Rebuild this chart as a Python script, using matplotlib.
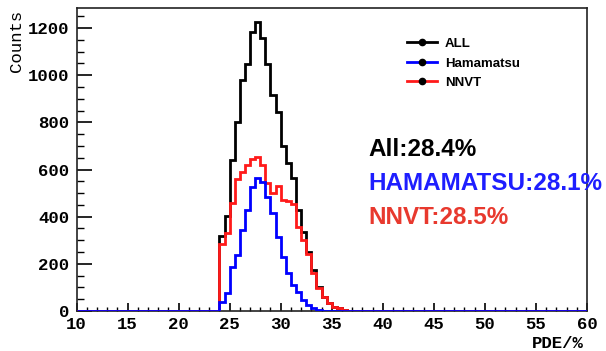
import matplotlib
matplotlib.use('Agg')
import matplotlib.pyplot as plt
from matplotlib.lines import Line2D
from matplotlib.ticker import MultipleLocator

# PDE histogram, 0.5 % bins starting at 24 %
bin_edges = [24.0, 24.5, 25.0, 25.5, 26.0, 26.5, 27.0, 27.5, 28.0, 28.5, 29.0, 29.5, 30.0,
             30.5, 31.0, 31.5, 32.0, 32.5, 33.0, 33.5, 34.0, 34.5, 35.0, 35.5, 36.0, 36.5, 37.0]
counts_all = [318, 405, 640, 800, 980, 1046, 1185, 1227, 1159, 1046, 916, 845, 701,
              626, 563, 430, 333, 252, 174, 103, 61, 33, 18, 11, 5, 2]
counts_ham = [38, 75, 188, 237, 343, 428, 527, 563, 548, 485, 414, 315, 230,
              160, 110, 82, 47, 25, 12, 5, 2, 0, 0, 0, 0, 0]
counts_nnvt = [285, 330, 457, 560, 590, 620, 645, 655, 619, 541, 500, 532, 471,
               466, 453, 357, 300, 240, 162, 98, 59, 33, 18, 11, 5, 2]

series_names = ["ALL", "Hamamatsu", "NNVT"]
series_colors = ['#000000', '#0000ff', '#ff1a1a']
mean_labels = ["All:28.4%", "HAMAMATSU:28.1%", "NNVT:28.5%"]
mean_colors = ['#000000', '#1e1eff', '#e8392e']

x_range = (10, 60)
y_max = 1285

fig = plt.figure(figsize=(6.06, 3.51), dpi=100)
W, H = 606, 351
ax = fig.add_axes([76.5 / W, 1 - 311 / H, (587 - 76.5) / W, (311 - 8) / H])

def pad_range(vals):
    # histogram outline runs along zero over the full axis range
    return [x_range[0]] + bin_edges + [x_range[1]], [0] + vals + [0]

for vals, col, z in [(counts_all, series_colors[0], 2),
                     (counts_nnvt, series_colors[2], 3),
                     (counts_ham, series_colors[1], 4)]:
    e, v = pad_range(vals)
    ax.stairs(v, e, color=col, lw=2.0, zorder=z)

ax.set_xlim(*x_range)
ax.set_ylim(0, y_max)

mono = dict(family='Liberation Mono', weight='bold')
ax.xaxis.set_major_locator(MultipleLocator(5))
ax.xaxis.set_minor_locator(MultipleLocator(1))
ax.yaxis.set_major_locator(MultipleLocator(200))
ax.yaxis.set_minor_locator(MultipleLocator(50))
ax.tick_params(axis='y', which='major', direction='in', length=10.5, width=1.2, pad=5)
ax.tick_params(axis='y', which='minor', direction='in', length=5.3, width=1.0)
ax.tick_params(axis='x', which='major', direction='in', length=6, width=1.2, pad=4)
ax.tick_params(axis='x', which='minor', direction='in', length=3, width=1.0)
for lab in ax.get_xticklabels() + ax.get_yticklabels():
    lab.set_fontfamily('Liberation Mono')
    lab.set_fontweight('bold')
    lab.set_fontsize(12.5)
for s in ax.spines.values():
    s.set_linewidth(1.2)
    s.set_color('#222222')

fig.text(16 / W, 1 - 10 / H, "Counts", rotation=90, ha='center', va='top',
         fontsize=12.5, family='Liberation Mono')
fig.text(584 / W, 1 - 343 / H, "PDE/%", ha='right', va='center',
         fontsize=12.5, **mono)

handles = [Line2D([], [], color=c, lw=2.0, marker='o', markersize=4.5,
                  markerfacecolor='black', markeredgecolor='black')
           for c in series_colors]
ax.legend(handles, series_names, loc='upper left',
          bbox_to_anchor=((395 - 76.5) / (587 - 76.5), (311 - 26) / (311 - 8)),
          frameon=False, handlelength=2.3, handletextpad=0.6, labelspacing=0.55,
          prop=dict(family='Liberation Sans', weight='bold', size=9.5))

for txt, col, ypx in zip(mean_labels, mean_colors, [150, 184, 217]):
    fig.text(368 / W, 1 - ypx / H, txt, color=col, ha='left', va='center',
             fontsize=17.5, family='Liberation Sans', weight='bold')

fig.savefig('out.png', dpi=100)
